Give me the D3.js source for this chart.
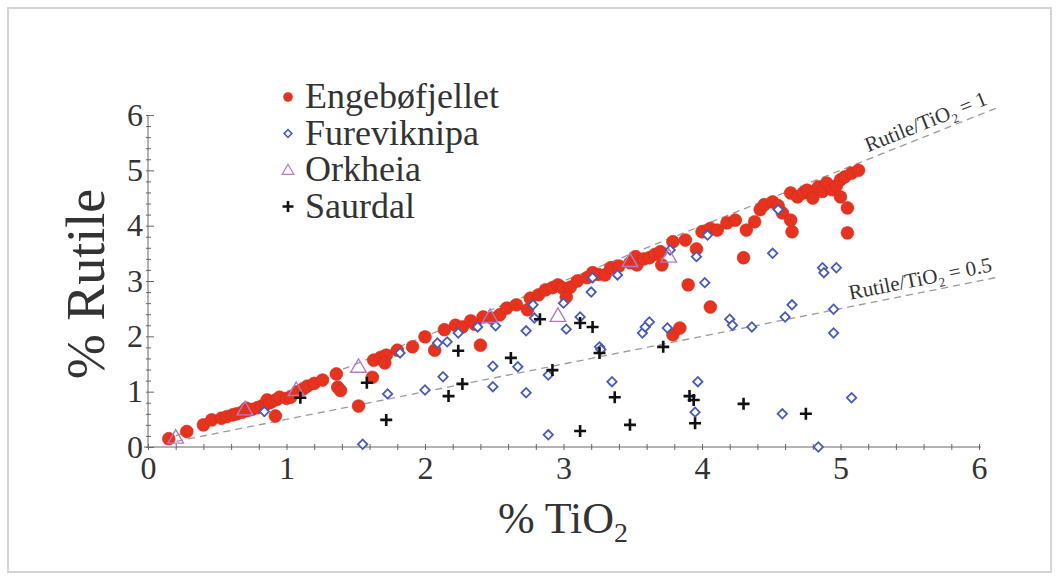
<!DOCTYPE html>
<html>
<head>
<meta charset="utf-8">
<script src="https://cdn.jsdelivr.net/npm/d3@7"></script>
<style>
  body { margin: 0; background: #fff; }
  text { font-family: "Liberation Serif", "DejaVu Serif", serif; fill: #333; }
</style>
</head>
<body>
<svg></svg>
<script>
// Engebøfjellet [TiO2, Rutile]
const engebo = [
  [0.15, 0.15], [0.28, 0.28], [0.40, 0.40], [0.46, 0.49], [0.53, 0.52], [0.57, 0.55],
  [0.61, 0.58], [0.64, 0.60], [0.68, 0.63], [0.71, 0.70], [0.72, 0.66], [0.75, 0.68],
  [0.79, 0.71], [0.82, 0.74], [0.85, 0.77], [0.86, 0.85], [0.88, 0.80], [0.90, 0.83],
  [0.92, 0.56], [0.93, 0.86], [0.95, 0.90], [1.00, 0.88], [1.03, 0.90], [1.08, 1.00],
  [1.12, 1.05], [1.15, 1.10], [1.20, 1.15], [1.26, 1.21], [1.36, 1.32], [1.37, 1.08],
  [1.39, 1.02], [1.52, 0.74], [1.62, 1.26], [1.63, 1.57], [1.68, 1.62], [1.72, 1.66],
  [1.71, 1.52], [1.80, 1.75], [1.91, 1.81], [2.00, 1.99], [2.07, 1.75], [2.14, 2.12],
  [2.22, 2.20], [2.27, 2.17], [2.33, 2.28], [2.36, 2.22], [2.40, 1.84], [2.42, 2.35],
  [2.48, 2.33], [2.54, 2.39], [2.59, 2.51], [2.66, 2.57], [2.74, 2.48], [2.76, 2.69],
  [2.82, 2.75], [2.87, 2.84], [2.92, 2.88], [2.96, 2.93], [2.99, 2.88], [3.02, 2.71],
  [3.05, 2.89], [3.10, 3.00], [3.17, 3.06], [3.21, 3.15], [3.25, 3.12], [3.30, 3.11],
  [3.34, 3.24], [3.40, 3.27], [3.48, 3.33], [3.52, 3.44], [3.53, 3.29], [3.58, 3.40],
  [3.62, 3.42], [3.66, 3.48], [3.70, 3.53], [3.71, 3.29], [3.79, 3.71], [3.79, 2.03],
  [3.84, 2.15], [3.88, 3.74], [3.90, 2.93], [3.96, 3.58], [4.00, 3.89], [4.06, 2.53],
  [4.06, 3.95], [4.11, 3.92], [4.18, 4.05], [4.24, 4.10], [4.30, 3.42], [4.32, 3.92],
  [4.38, 4.07], [4.42, 4.29], [4.45, 4.38], [4.51, 4.43], [4.55, 4.36], [4.58, 4.23],
  [4.64, 4.10], [4.65, 3.89], [4.64, 4.59], [4.69, 4.52], [4.73, 4.59], [4.76, 4.64],
  [4.80, 4.50], [4.84, 4.70], [4.87, 4.62], [4.90, 4.77], [4.94, 4.65], [4.97, 4.72],
  [5.00, 4.83], [5.03, 4.88], [5.08, 4.95], [5.13, 5.00], [5.00, 4.52], [5.05, 4.32],
  [5.05, 3.87]
];

// Fureviknipa
const furevik = [
  [0.84, 0.64], [1.55, 0.05], [1.73, 0.96], [1.82, 1.70], [2.00, 1.03], [2.09, 1.88],
  [2.13, 1.27], [2.16, 1.90], [2.24, 2.06], [2.38, 2.17], [2.49, 1.46], [2.49, 1.09],
  [2.51, 2.19], [2.67, 1.45], [2.73, 0.98], [2.73, 2.10], [2.78, 2.57], [2.79, 2.33],
  [2.89, 1.30], [2.89, 0.22], [3.00, 2.60], [3.02, 2.13], [3.12, 2.35], [3.20, 2.80],
  [3.21, 3.06], [3.26, 1.81], [3.27, 1.76], [3.35, 1.18], [3.39, 3.11], [3.57, 2.06],
  [3.59, 2.17], [3.62, 2.26], [3.75, 2.15], [3.77, 3.56], [3.96, 3.44], [3.97, 1.18],
  [3.95, 0.63], [4.02, 2.97], [4.04, 3.83], [4.20, 2.31], [4.22, 2.20], [4.36, 2.17],
  [4.51, 3.50], [4.55, 4.29], [4.60, 2.35], [4.65, 2.57], [4.58, 0.60], [4.84, 0.00],
  [4.87, 3.24], [4.88, 3.15], [4.97, 3.24], [4.95, 2.49], [4.95, 2.06], [5.08, 0.89]
];

// Orkheia
const orkheia = [
  [0.20, 0.17], [0.70, 0.68], [1.07, 1.03], [1.52, 1.45], [2.47, 2.35], [2.96, 2.37],
  [3.48, 3.36], [3.76, 3.44]
];

// Saurdal
const saurdal = [
  [1.10, 0.89], [1.58, 1.16], [1.72, 0.49], [2.17, 0.92], [2.24, 1.74], [2.27, 1.14],
  [2.62, 1.61], [2.83, 2.31], [2.92, 1.39], [3.12, 2.24], [3.21, 2.17], [3.26, 1.70],
  [3.12, 0.29], [3.37, 0.90], [3.48, 0.40], [3.72, 1.81], [3.91, 0.92], [3.94, 0.85],
  [3.95, 0.43], [4.30, 0.78], [4.75, 0.60]
];

const legendNames = ["Engebøfjellet", "Fureviknipa", "Orkheia", "Saurdal"];
const tickValues = [0, 1, 2, 3, 4, 5, 6];
const ratioLines = [1, 0.5];

const width = 1059;
const height = 581;

const svg = d3.select("svg").attr("width", width).attr("height", height);

// outer frame
svg.append("rect")
  .attr("x", 8).attr("y", 8)
  .attr("width", 1043).attr("height", 564)
  .attr("fill", "#fff")
  .attr("stroke", "#d4d4d4")
  .attr("stroke-width", 2);

const x = d3.scaleLinear().domain([0, 6]).range([148, 979]);
const y = d3.scaleLinear().domain([0, 6]).range([447, 115]);

const minor = d3.range(0, 6.001, 0.2);

// x axis
const gx = svg.append("g").attr("transform", "translate(0," + y(0) + ")");
gx.call(d3.axisBottom(x).tickValues(minor).tickSize(4).tickFormat(""));
gx.selectAll(".tick line").attr("y1", -3).attr("y2", 3);
gx.select(".domain").attr("d", "M" + (x(0) - 4) + ",0H" + (x(6) + 2));
gx.selectAll("path, line").attr("stroke", "#666");
const gx2 = svg.append("g").attr("transform", "translate(0," + y(0) + ")");
gx2.call(d3.axisBottom(x).tickValues(tickValues).tickSize(0).tickPadding(9).tickFormat(d3.format("d")));
gx2.select(".domain").remove();
gx2.selectAll(".tick line").remove();
gx2.selectAll("text")
  .style("font-family", "Liberation Serif, serif")
  .style("font-size", "32px")
  .attr("fill", "#333");

// y axis
const gy = svg.append("g").attr("transform", "translate(" + x(0) + ",0)");
gy.call(d3.axisLeft(y).tickValues(minor).tickSize(3).tickFormat(""));
gy.selectAll(".tick line").attr("x1", -2).attr("x2", 3);
gy.select(".domain").attr("d", "M0," + y(6) + "V" + y(0));
gy.selectAll("path, line").attr("stroke", "#666");
gy.selectAll(".tick").filter(d => Math.abs(d - Math.round(d)) < 1e-6)
  .select("line").attr("x1", -2).attr("x2", 6);
const gy2 = svg.append("g").attr("transform", "translate(" + x(0) + ",0)");
gy2.call(d3.axisLeft(y).tickValues(tickValues).tickSize(0).tickPadding(5).tickFormat(d3.format("d")));
gy2.select(".domain").remove();
gy2.selectAll("text")
  .style("font-family", "Liberation Serif, serif")
  .style("font-size", "32px")
  .attr("fill", "#333");

// ratio lines
const lineGen = d3.line().x(d => x(d[0])).y(d => y(d[1]));
ratioLines.forEach(r => {
  svg.append("path")
    .attr("d", lineGen([[0.12, 0.12 * r], [6.15, 6.15 * r]]))
    .attr("fill", "none")
    .attr("stroke", "#9a9a9a")
    .attr("stroke-width", 1.3)
    .attr("stroke-dasharray", "7,5");
});

function ratioLabel(r, x0, gap, txt) {
  const ang = Math.atan2(y(x0 * r) - y((x0 + 1) * r), x(x0 + 1) - x(x0)) * 180 / Math.PI;
  const t = svg.append("text")
    .attr("transform", "translate(" + x(x0) + "," + (y(x0 * r) - gap) + ") rotate(" + (-ang) + ")")
    .style("font-size", "21px")
    .attr("fill", "#333");
  t.append("tspan").text("Rutile/TiO");
  t.append("tspan").attr("dy", 5).style("font-size", "13px").text("2");
  t.append("tspan").attr("dy", -5).text(" = " + txt);
}
ratioLabel(1, 5.2, 7, "1");
ratioLabel(0.5, 5.07, 7, "0.5");

// points
const diamond = d3.symbol().type(d3.symbolSquare).size(44);
const tri = d3.symbol().type(d3.symbolTriangle).size(105);

svg.append("g").selectAll("circle")
  .data(engebo).join("circle")
  .attr("cx", d => x(d[0])).attr("cy", d => y(d[1]))
  .attr("r", 6.4)
  .attr("fill", "#e6331f")
  .attr("stroke", "#d42a18")
  .attr("stroke-width", 0.6);

svg.append("g").selectAll("path")
  .data(furevik).join("path")
  .attr("d", diamond)
  .attr("transform", d => "translate(" + x(d[0]) + "," + y(d[1]) + ") rotate(45)")
  .attr("fill", "#fff")
  .attr("stroke", "#4a5bb4")
  .attr("stroke-width", 1.8);

svg.append("g").selectAll("path")
  .data(orkheia).join("path")
  .attr("d", tri)
  .attr("transform", d => "translate(" + x(d[0]) + "," + (y(d[1]) + 1) + ")")
  .attr("fill", "none")
  .attr("stroke", "#b47cc4")
  .attr("stroke-width", 1.4);

const cross = (cx, cy, s) => "M" + (cx - s) + "," + cy + "H" + (cx + s) + "M" + cx + "," + (cy - s) + "V" + (cy + s);

svg.append("g").selectAll("path")
  .data(saurdal).join("path")
  .attr("d", d => cross(x(d[0]), y(d[1]), 6))
  .attr("stroke", "#111")
  .attr("stroke-width", 2.6);

// axis titles
svg.append("text")
  .attr("x", 563).attr("y", 533)
  .attr("text-anchor", "middle")
  .style("font-size", "44px")
  .call(t => {
    t.append("tspan").text("% TiO");
    t.append("tspan").attr("dy", 9).style("font-size", "28px").text("2");
  });

svg.append("text")
  .attr("transform", "translate(104,284) rotate(-90)")
  .attr("text-anchor", "middle")
  .style("font-size", "54px")
  .text("% Rutile");

// legend
const lg = svg.append("g");
legendNames.forEach((name, i) => {
  const ly = 97 + i * 36.5;
  if (i === 0) {
    lg.append("circle").attr("cx", 288).attr("cy", ly).attr("r", 4.8).attr("fill", "#e6331f");
  } else if (i === 1) {
    lg.append("path").attr("d", d3.symbol().type(d3.symbolSquare).size(30))
      .attr("transform", "translate(288," + ly + ") rotate(45)")
      .attr("fill", "#fff").attr("stroke", "#4a5bb4").attr("stroke-width", 1.6);
  } else if (i === 2) {
    lg.append("path").attr("d", d3.symbol().type(d3.symbolTriangle).size(60))
      .attr("transform", "translate(288," + (ly + 1) + ")")
      .attr("fill", "none").attr("stroke", "#b47cc4").attr("stroke-width", 1.2);
  } else {
    lg.append("path").attr("d", cross(288, ly, 5.5)).attr("stroke", "#111").attr("stroke-width", 2.6);
  }
  lg.append("text")
    .attr("x", 305).attr("y", ly + 11)
    .style("font-size", "36px")
    .text(name);
});
</script>
</body>
</html>
